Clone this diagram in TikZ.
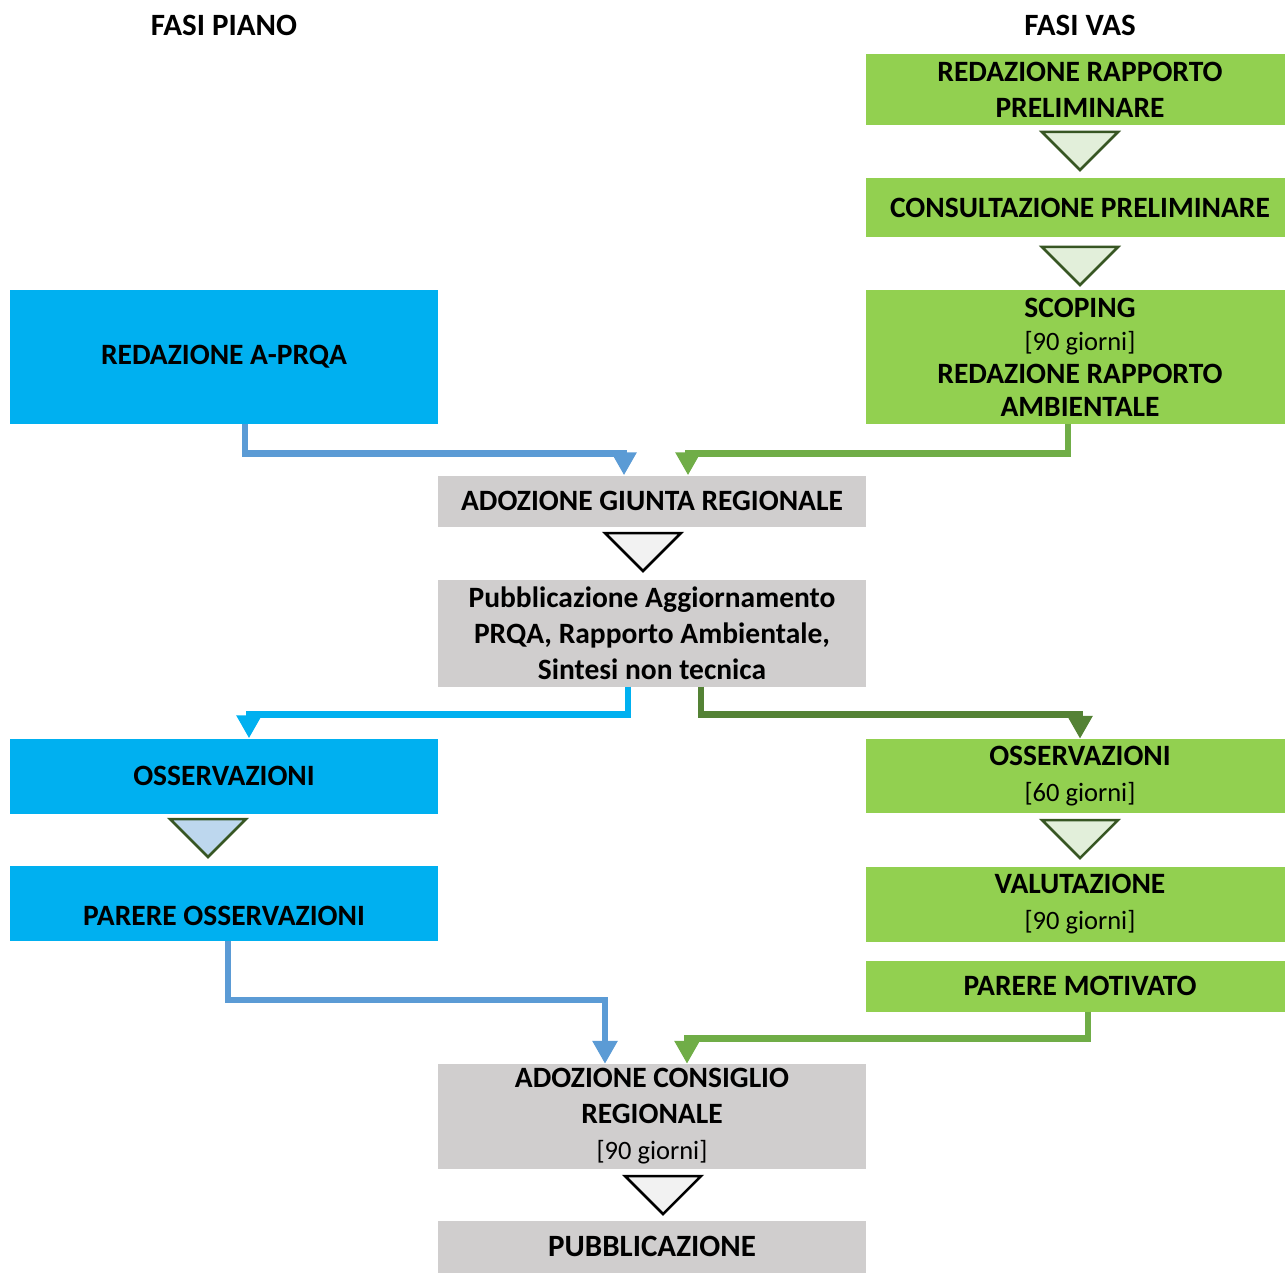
\documentclass[tikz,border=0pt]{standalone}
\usepackage{fontspec}
\setmainfont{Carlito}
\usetikzlibrary{arrows.meta}

\definecolor{boxblue}{RGB}{0,176,240}
\definecolor{boxgreen}{RGB}{146,208,80}
\definecolor{boxgray}{RGB}{208,206,206}
\definecolor{lnblue}{RGB}{91,155,213}
\definecolor{lngreen}{RGB}{112,173,71}
\definecolor{lndkgreen}{RGB}{84,130,53}
\definecolor{tridark}{RGB}{55,86,35}
\definecolor{trigreen}{RGB}{226,239,218}
\definecolor{triblue}{RGB}{189,215,238}
\definecolor{trigray}{RGB}{242,242,242}

\tikzset{
  box/.style={inner sep=0pt, align=center, font=\fontsize{29.5}{36}\selectfont\bfseries},
  bluebox/.style={box, fill=boxblue, minimum width=428pt},
  greenbox/.style={box, fill=boxgreen, minimum width=428pt},
  graybox/.style={box, fill=boxgray, minimum width=428pt},
  conn/.style={line width=6.5pt, -{Triangle[length=23pt,width=24pt]}},
  hollow/.style={line width=2.5pt, line join=miter}
}
\newcommand{\gio}{{\mdseries\fontsize{26.5}{34}\selectfont [90 giorni]}}

\begin{document}
\begin{tikzpicture}[x=1pt,y=-1pt]
\useasboundingbox (0,0) rectangle (1285,1273);

% titoli
\node[box, font=\fontsize{31}{36}\selectfont\bfseries] (tpiano) at (224,25) {FASI PIANO};
\node[box, font=\fontsize{31}{36}\selectfont\bfseries] (tvas) at (1080,25) {FASI VAS};

% colonna VAS
\node[greenbox, minimum height=71pt] (rrp) at (1080,90) {REDAZIONE RAPPORTO\\PRELIMINARE};
\node[greenbox, minimum height=59pt] (cons) at (1080,207.5) {CONSULTAZIONE PRELIMINARE};
\node[greenbox, minimum height=133pt, font=\fontsize{29.5}{33}\selectfont\bfseries] (scop) at (1080,357) {SCOPING\\\gio\\REDAZIONE RAPPORTO\\AMBIENTALE};
\node[greenbox, minimum height=74pt] (ossvas) at (1080,776) {OSSERVAZIONI\\{\mdseries\fontsize{26.5}{34}\selectfont [60 giorni]}};
\node[greenbox, minimum height=75pt] (valut) at (1080,904) {VALUTAZIONE\\\gio};
\node[greenbox, minimum height=51pt] (parmot) at (1080,986) {PARERE MOTIVATO};

% colonna piano
\node[bluebox, minimum height=133pt] (aprqa) at (224,357) {REDAZIONE A-PRQA};
\node[bluebox, minimum height=75pt] (osspia) at (224,776) {OSSERVAZIONI};
\node[bluebox, minimum height=75pt] (paross) at (224,903.5) {\raisebox{-22pt}[0pt][0pt]{PARERE OSSERVAZIONI}};

% centro
\node[graybox, minimum height=51pt] (giunta) at (652,501) {ADOZIONE GIUNTA REGIONALE};
\node[graybox, minimum height=107pt] (pubbl) at (652,633) {Pubblicazione Aggiornamento\\PRQA, Rapporto Ambientale,\\Sintesi non tecnica};
\node[graybox, minimum height=105pt] (consiglio) at (652,1116.5) {ADOZIONE CONSIGLIO\\REGIONALE\\\gio};
\node[graybox, minimum height=52pt, font=\fontsize{31}{36}\selectfont\bfseries] (pubfin) at (652,1246.5) {PUBBLICAZIONE};

% frecce vuote
\foreach \tx/\ty/\fc/\dc in {1080/132/trigreen/tridark, 1080/247/trigreen/tridark,
    643/533/trigray/black, 208/819/triblue/tridark, 1080/820/trigreen/tridark,
    663/1176/trigray/black}
  \draw[hollow, fill=\fc, draw=\dc] (\tx-38,\ty) -- (\tx+38,\ty) -- (\tx,\ty+38) -- cycle;

% collegamenti
\draw[conn, lnblue] ([xshift=21pt]aprqa.south) -- ++(0,30) -| ([xshift=-28pt]giunta.north);
\draw[conn, lngreen] ([xshift=-12pt]scop.south) -- ++(0,30) -| ([xshift=36pt]giunta.north);
\draw[conn, boxblue] ([xshift=-24pt]pubbl.south) -- ++(0,28) -| ([xshift=25pt]osspia.north);
\draw[conn, lndkgreen] ([xshift=49pt]pubbl.south) -- ++(0,28) -| (ossvas.north);
\draw[conn, lnblue] ([xshift=4pt]paross.south) -- ++(0,59) -| ([xshift=-47pt]consiglio.north);
\draw[conn, lngreen] ([xshift=8pt]parmot.south) -- ++(0,27) -| ([xshift=35pt]consiglio.north);
\end{tikzpicture}
\end{document}
